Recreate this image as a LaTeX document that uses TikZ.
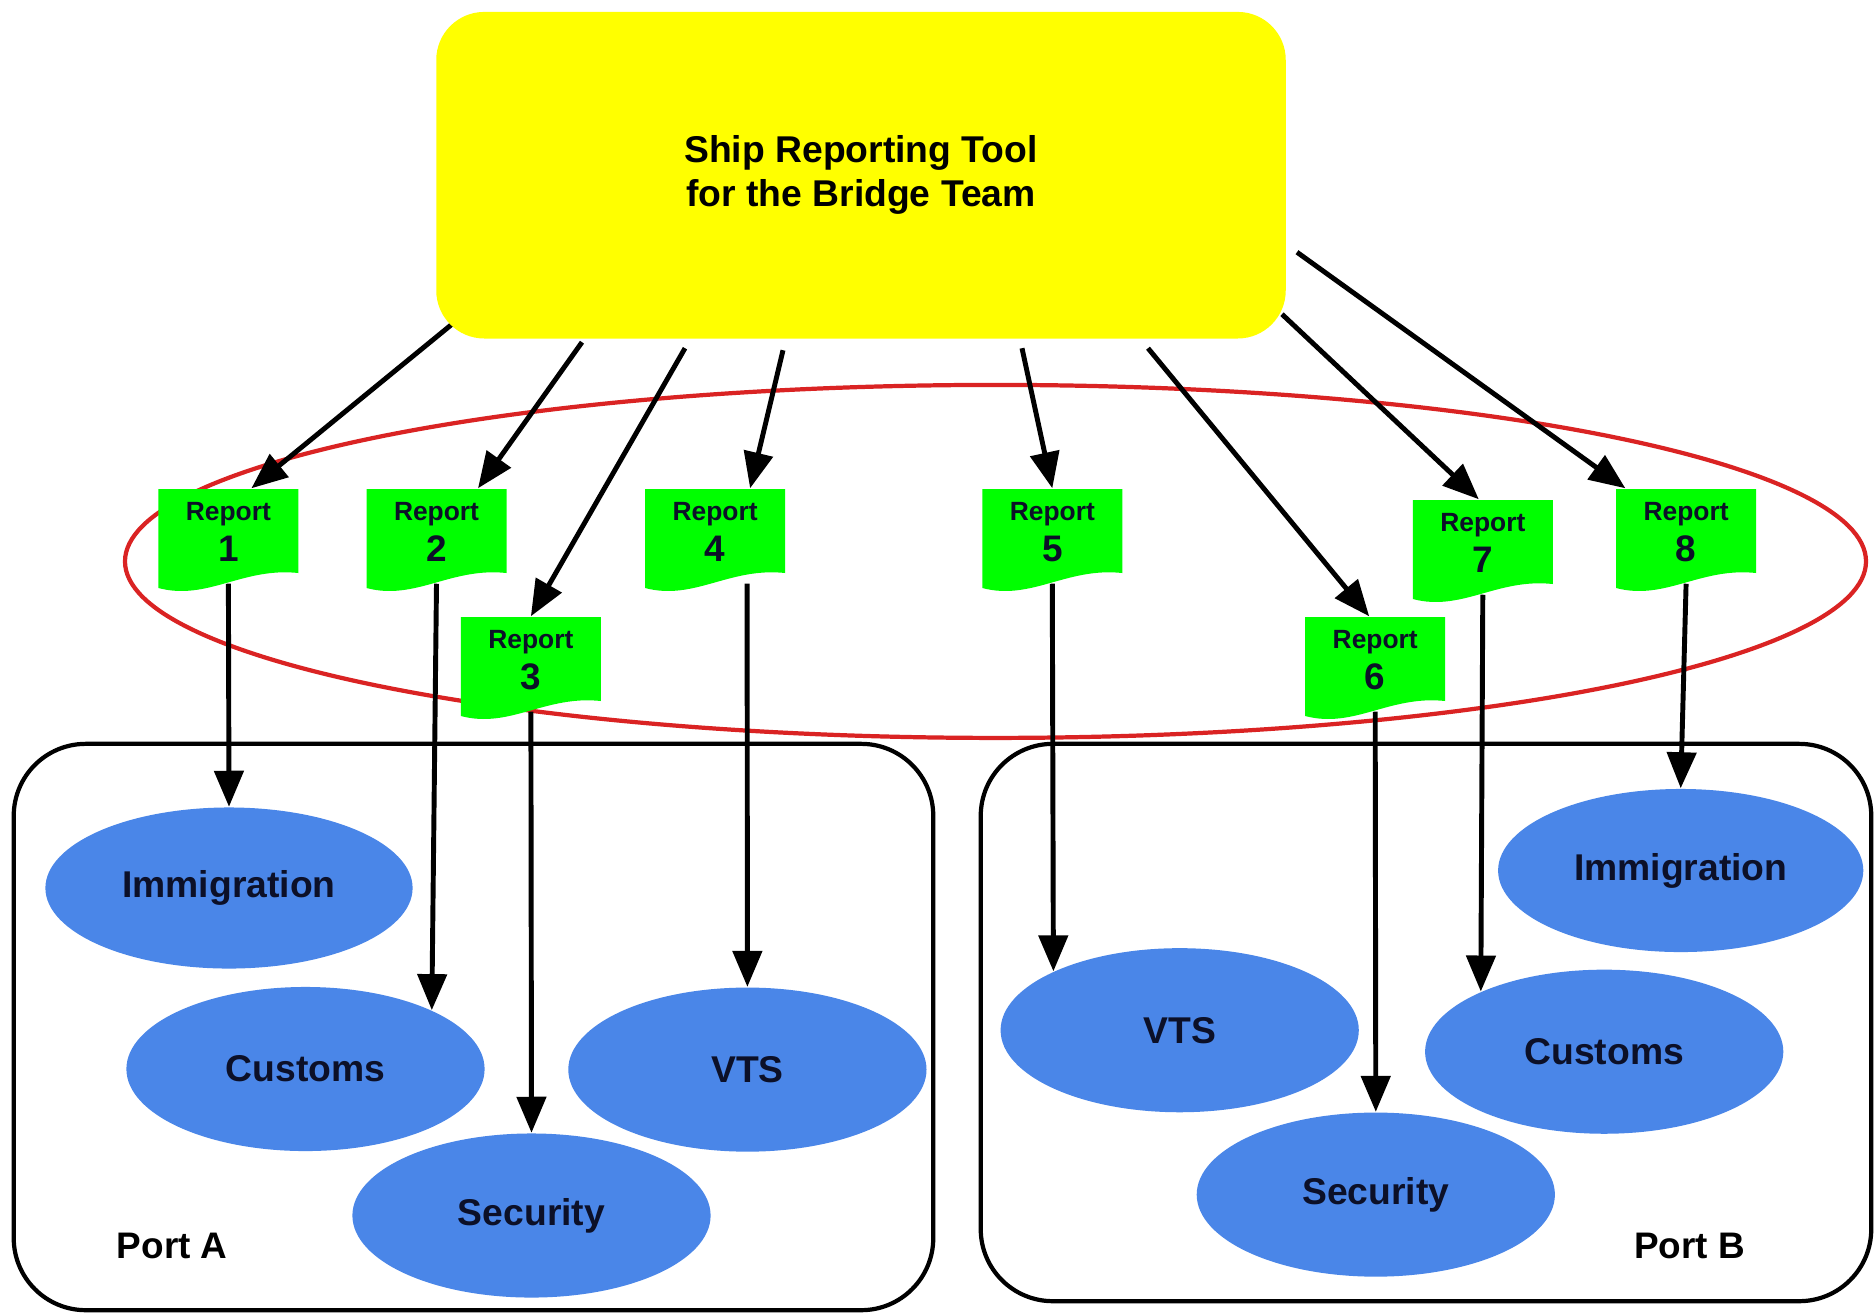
\documentclass[tikz,border=0pt]{standalone}
\usepackage{fontspec}
\setmainfont{Liberation Sans}
\usetikzlibrary{arrows.meta,shapes.geometric,calc}
\pgfdeclarelayer{back}
\pgfdeclarelayer{mid}
\pgfsetlayers{back,mid,main}
\definecolor{toolyellow}{RGB}{255,255,0}
\definecolor{repgreen}{RGB}{0,255,0}
\definecolor{agencyblue}{RGB}{74,134,232}
\definecolor{ringred}{RGB}{218,35,35}
\definecolor{inktext}{RGB}{12,16,40}
\newcommand{\reportdoc}[4]{%
  \fill[repgreen] (#2-70,#3) -- (#2+70,#3) -- (#2+70,#3+84) .. controls (#2+14,#3+78) and (#2-21,#3+112) .. (#2-70,#3+99) -- cycle;
  \node[repbox] (#1) at (#2,#3+47) {};
  \node[reptxt] (#1a) at (#2,#3+31) {Report};
  \node[repnum] (#1b) at (#2,#3+72) {#4};
}
\tikzset{
  tool/.style={rectangle, rounded corners=0.48cm, fill=toolyellow, minimum width=8.49cm, minimum height=3.264cm, inner sep=0, align=center, font=\fontsize{10.6}{12.5}\selectfont\bfseries},
  repbox/.style={rectangle, minimum width=1.4cm, minimum height=0.94cm, inner sep=0},
  reptxt/.style={anchor=base, inner sep=0, text=inktext, font=\fontsize{7.5}{9}\selectfont\bfseries},
  repnum/.style={anchor=base, inner sep=0, text=inktext, font=\fontsize{10.5}{12}\selectfont\bfseries},
  agency/.style={ellipse, fill=agencyblue, inner sep=0, minimum width=3.58cm, minimum height=1.64cm, text=inktext, font=\fontsize{10.6}{12}\selectfont\bfseries},
  port/.style={rectangle, draw=black, line width=1.2pt, rounded corners=0.72cm, inner sep=0},
  portlbl/.style={inner sep=0, font=\fontsize{10.5}{12}\selectfont\bfseries},
  flow/.style={line width=1.4pt, -{Triangle[length=0.36cm,width=0.29cm]}},
  ring/.style={ellipse, draw=ringred, line width=1.2pt, inner sep=0, minimum width=17.4cm, minimum height=3.528cm}
}
\begin{document}
\begin{tikzpicture}[x=0.01cm,y=-0.01cm]
\begin{pgfonlayer}{back}
  \fill[white] (0,0) rectangle (1875,1314);
\end{pgfonlayer}
\useasboundingbox (0,0) rectangle (1875,1314);

% top tool
\node[tool] (tool) at (861,175.2) {Ship Reporting Tool\\for the Bridge Team};

% group ring
\begin{pgfonlayer}{back}
  \node[ring] (ring) at (995.5,561.4) {};
\end{pgfonlayer}

% ports
\node[port, minimum width=9.19cm, minimum height=5.66cm] (portA) at (473.5,1027) {};
\node[port, minimum width=8.90cm, minimum height=5.57cm] (portB) at (1426,1022.5) {};
\node[portlbl] (portAl) at (172.2,1246) {Port A};
\node[portlbl] (portBl) at (1689.7,1246) {Port B};

% agencies
\node[agency, minimum width=3.67cm, minimum height=1.61cm] (imA) at (229,888) {Immigration};
\node[agency] (cuA) at (305.5,1069) {Customs};
\node[agency] (vtA) at (747.4,1069.6) {VTS};
\node[agency] (seA) at (531.5,1215.5) {Security};
\node[agency, minimum width=3.65cm, minimum height=1.63cm] (imB) at (1680.7,870.5) {Immigration};
\node[agency] (vtB) at (1179.7,1030.2) {VTS};
\node[agency] (cuB) at (1604.2,1051.7) {Customs};
\node[agency] (seB) at (1375.8,1194.6) {Security};

% reports
\reportdoc{r1}{228.4}{489}{1}
\reportdoc{r2}{436.5}{489}{2}
\reportdoc{r3}{530.9}{617}{3}
\reportdoc{r4}{715.1}{489}{4}
\reportdoc{r5}{1052.3}{489}{5}
\reportdoc{r6}{1375.2}{617}{6}
\reportdoc{r7}{1482.8}{500}{7}
\reportdoc{r8}{1686.1}{489}{8}

\begin{pgfonlayer}{mid}
  % tool to reports
  \draw[flow] ($(tool.south)+(-409,-15)$) -- ([xshift=0.23cm]r1.north);
  \draw[flow] ($(tool.south)+(-279,3)$) -- ([xshift=0.415cm]r2.north);
  \draw[flow] ($(tool.south)+(-176,9)$) -- (r3.north);
  \draw[flow] ($(tool.south)+(-78,11)$) -- ([xshift=0.35cm]r4.north);
  \draw[flow] ($(tool.south)+(161,9)$) -- (r5.north);
  \draw[flow] ($(tool.south)+(287,9)$) -- ([xshift=-0.06cm]r6.north);
  \draw[flow] ($(tool.south)+(421,-25)$) -- ([xshift=-0.04cm]r7.north);
  \draw[flow] ($(tool.south)+(436,-87)$) -- ([xshift=0.1cm]r8.north west);
  % reports to agencies
  \draw[flow] (r1.south) -- (imA.north);
  \draw[flow] (r2.south) -- (cuA.25);
  \draw[flow] (r3.south) -- (seA.north);
  \draw[flow] ([xshift=0.32cm]r4.south) -- (vtA.north);
  \draw[flow] (r5.south) -- (vtB.155.5);
  \draw[flow] (r6.south) -- (seB.north);
  \draw[flow] (r7.south) -- (cuB.154);
  \draw[flow] (r8.south) -- (imB.north);
\end{pgfonlayer}
\end{tikzpicture}
\end{document}
